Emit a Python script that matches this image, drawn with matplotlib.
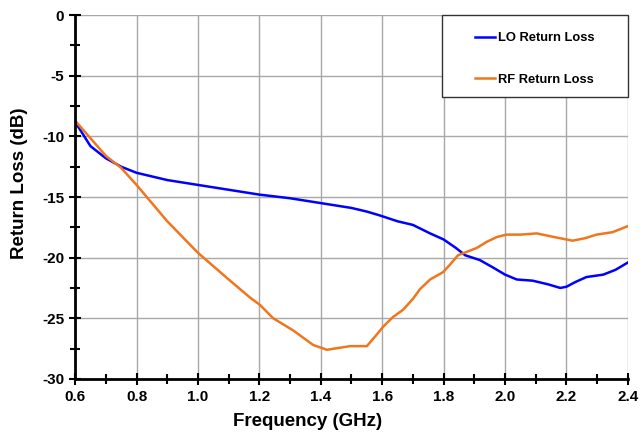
import matplotlib
matplotlib.use("Agg")
import matplotlib.pyplot as plt
from matplotlib.patches import Rectangle
from matplotlib.ticker import MultipleLocator

plt.rcParams['font.family'] = ['Liberation Sans', 'DejaVu Sans']
plt.rcParams['font.weight'] = 'bold'

# LO return loss
lo_freq = [0.60, 0.62, 0.65, 0.70, 0.75, 0.80, 0.90, 1.00, 1.10, 1.20, 1.30, 1.40, 1.50, 1.55,
           1.59, 1.65, 1.70, 1.756, 1.80, 1.84, 1.87, 1.918, 1.96, 2.00, 2.038, 2.09, 2.14,
           2.18, 2.20, 2.23, 2.265, 2.32, 2.36, 2.40]
lo_rl = [-8.8, -9.6, -10.8, -11.8, -12.5, -13.0, -13.6, -14.0, -14.4, -14.8, -15.1, -15.5, -15.9,
         -16.2, -16.5, -17.0, -17.3, -18.0, -18.5, -19.2, -19.8, -20.2, -20.8, -21.4, -21.8,
         -21.9, -22.2, -22.5, -22.4, -22.0, -21.6, -21.4, -21.0, -20.4]

# RF return loss
rf_freq = [0.60, 0.70, 0.75, 0.80, 0.90, 1.00, 1.10, 1.17, 1.202, 1.245, 1.31, 1.375, 1.42,
           1.495, 1.55, 1.577, 1.603, 1.635, 1.668, 1.70, 1.723, 1.756, 1.798, 1.82, 1.847,
           1.908, 1.94, 1.973, 2.005, 2.05, 2.103, 2.16, 2.22, 2.26, 2.298, 2.35, 2.40]
rf_rl = [-8.7, -11.6, -12.6, -14.0, -17.0, -19.6, -21.8, -23.3, -23.9, -25.0, -26.0, -27.2, -27.6,
         -27.3, -27.3, -26.5, -25.7, -24.9, -24.3, -23.4, -22.6, -21.8, -21.2, -20.6, -19.8,
         -19.2, -18.7, -18.3, -18.1, -18.1, -18.0, -18.3, -18.6, -18.4, -18.1, -17.9, -17.4]

fig = plt.figure(figsize=(6.42, 4.34), dpi=100)
ax = fig.add_axes([0.117, 0.127, 0.861, 0.838])

l1, = ax.plot(lo_freq, lo_rl, color='#0000FF', lw=1.8, label='LO Return Loss', zorder=3)
l2, = ax.plot(rf_freq, rf_rl, color='#F0761E', lw=1.8, label='RF Return Loss', zorder=3)

ax.set_xlim(0.6, 2.4)
ax.set_ylim(-30, 0)
ax.xaxis.set_major_locator(MultipleLocator(0.2))
ax.xaxis.set_minor_locator(MultipleLocator(0.1))
ax.yaxis.set_major_locator(MultipleLocator(5))
ax.yaxis.set_minor_locator(MultipleLocator(2.5))
ax.xaxis.set_major_formatter(lambda v, p: f"{v:.1f}")
ax.yaxis.set_major_formatter(lambda v, p: f"{v:.0f}")

ax.grid(True, which='major', color='#A8A8A8', lw=1.0, zorder=0)
ax.set_axisbelow(True)
for s in ['top', 'right']:
    ax.spines[s].set_visible(False)
for s in ['left', 'bottom']:
    ax.spines[s].set_linewidth(2)
    ax.spines[s].set_zorder(4)
ax.tick_params(which='major', direction='inout', length=8, width=1.5, labelsize=11, pad=4)
ax.tick_params(which='minor', direction='inout', length=7, width=1.5)
for lab in ax.get_xticklabels() + ax.get_yticklabels():
    lab.set_fontweight('bold')

fig.text(307.5 / 642, 1 - 421 / 434, 'Frequency (GHz)', fontsize=13.5, fontweight='bold',
         ha='center', va='center')
fig.text(20 / 642, 1 - 183 / 434, 'Return Loss (dB)', fontsize=13.5, fontweight='bold',
         ha='center', va='center', rotation=90)

# legend box
x0 = (442 - 75) / 553
y0 = (379 - 97) / 364
ax.add_patch(Rectangle((x0, y0), 1 - x0, 1 - y0, transform=ax.transAxes, facecolor='white',
                       edgecolor='#333333', lw=1.0, zorder=5, clip_on=False))
leg = ax.legend(handles=[l1, l2], loc='center', bbox_to_anchor=((x0 + 1) / 2, (y0 + 1) / 2 - 0.008),
                frameon=False, handlelength=1.55, handletextpad=0.25, labelspacing=2.3,
                prop={'weight': 'bold', 'size': 9.3})
leg.set_zorder(6)

fig.savefig('out.png', dpi=100)
